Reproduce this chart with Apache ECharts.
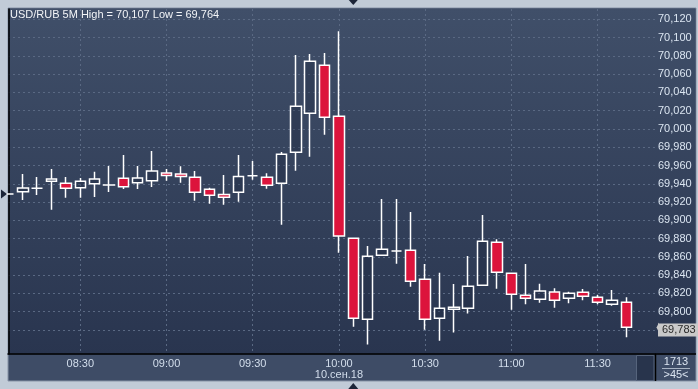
<!DOCTYPE html>
<html><head><meta charset="utf-8">
<script src="https://cdn.jsdelivr.net/npm/echarts@6/dist/echarts.min.js"></script>
<style>html,body{margin:0;padding:0;background:#c1cbd7;}#c{width:698px;height:389px;}</style>
</head><body><div id="c"></div>
<script>
const times = ['08:05','08:10','08:15','08:20','08:25','08:30','08:35','08:40','08:45','08:50','08:55',
  '09:00','09:05','09:10','09:15','09:20','09:25','09:30','09:35','09:40','09:45','09:50','09:55',
  '10:00','10:05','10:10','10:15','10:20','10:25','10:30','10:35','10:40','10:45','10:50','10:55',
  '11:00','11:05','11:10','11:15','11:20','11:25','11:30','11:35','11:40'];
const opens = [69.9288,69.9314,69.9350,69.9427,69.9405,69.9357,69.9401,69.9386,69.9460,69.9412,69.9434,
  69.9518,69.9507,69.9471,69.9339,69.9284,69.9306,69.9489,69.9471,69.9405,69.9744,70.0171,70.0696,
  70.0138,69.8803,69.7917,69.8617,69.8664,69.8672,69.8354,69.7927,69.8026,69.8037,69.8289,69.8759,
  69.8420,69.8179,69.8135,69.8216,69.8146,69.8212,69.8157,69.8081,69.8103];
const closes = [69.9288,69.9354,69.9350,69.9452,69.9350,69.9427,69.9452,69.9388,69.9368,69.9463,69.9540,
  69.9492,69.9481,69.9306,69.9274,69.9252,69.9481,69.9489,69.9383,69.9722,70.0248,70.0740,70.0127,
  69.8829,69.7927,69.8606,69.8683,69.8664,69.8332,69.7917,69.8037,69.8048,69.8278,69.8770,69.8431,
  69.8190,69.8146,69.8227,69.8125,69.8201,69.8168,69.8103,69.8125,69.7830];
const lows = [69.9280,69.9222,69.9277,69.9117,69.9248,69.9248,69.9255,69.9310,69.9343,69.9343,69.9365,
  69.9434,69.9412,69.9215,69.9182,69.9171,69.9204,69.9445,69.9346,69.8953,69.9543,69.9697,69.9937,
  69.8646,69.7836,69.7640,69.8617,69.8526,69.8274,69.7803,69.7683,69.7771,69.7979,69.8289,69.8252,
  69.8022,69.8081,69.8099,69.8044,69.8092,69.8125,69.8081,69.8066,69.7719];
const highs = [69.9296,69.9507,69.9474,69.9562,69.9474,69.9463,69.9533,69.9595,69.9715,69.9595,69.9759,
  69.9562,69.9591,69.9540,69.9357,69.9496,69.9715,69.9649,69.9514,69.9748,70.0809,70.0820,70.0831,
  70.1070,69.8803,69.8719,69.9233,69.9233,69.9091,69.8522,69.8427,69.8303,69.8610,69.9058,69.8792,
  69.8420,69.8522,69.8307,69.8256,69.8219,69.8249,69.8183,69.8238,69.8157];
const tickLabels = ['08:30','09:00','09:30','10:00','10:30','11:00','11:30'];
const yTicks = [69.78,69.80,69.82,69.84,69.86,69.88,69.90,69.92,69.94,69.96,69.98,70.00,70.02,70.04,70.06,70.08,70.10,70.12];
const yLabels = [69.80,69.82,69.84,69.86,69.88,69.90,69.92,69.94,69.96,69.98,70.00,70.02,70.04,70.06,70.08,70.10,70.12];
const titleText = 'USD/RUB 5M High = 70,107 Low = 69,764';
const dateLabel = '10.сен.18';
const dateTick = '10:00';
const statTop = '1713';
const statBottom = '>45<';
const cursorIndex = 24;

const FONT = "'Liberation Sans Narrow','Arial Narrow','Liberation Sans',Arial,sans-serif";
const fmt = v => Number(v).toFixed(3).replace('.', ',');
const data = times.map((t, i) => [i, opens[i], closes[i], lows[i], highs[i]]);
const tickIdx = tickLabels.map(t => times.indexOf(t));
const lastClose = closes[closes.length - 1];

const chart = echarts.init(document.getElementById('c'), null, {renderer: 'canvas'});
const grad = new echarts.graphic.LinearGradient(0, 0, 0, 1, [
  {offset: 0, color: '#404f69'}, {offset: 1, color: '#29354f'}]);
const chrome = [
  {type: 'rect', silent: true, z: -30, shape: {x: 8, y: 8, width: 688, height: 373},
   style: {fill: '#3e4c66', stroke: '#8793a6', lineWidth: 1}},
  {type: 'rect', silent: true, z: -29, shape: {x: 8.5, y: 8.5, width: 687, height: 346}, style: {fill: grad}},
  {type: 'line', silent: true, z: 10, shape: {x1: 655, y1: 354, x2: 696, y2: 354}, style: {stroke: '#000', lineWidth: 1.5}},
  {type: 'line', silent: true, z: 10, shape: {x1: 655.5, y1: 354, x2: 655.5, y2: 381}, style: {stroke: '#000', lineWidth: 1.5}},
  {type: 'rect', silent: true, z: 5, shape: {x: 636.5, y: 355.5, width: 17.5, height: 25},
   style: {fill: '#28344c', stroke: '#56647c', lineWidth: 1}},
  {type: 'line', silent: true, z: 10, shape: {x1: 662, y1: 368.5, x2: 690, y2: 368.5}, style: {stroke: '#a8b3c3', lineWidth: 1}},
  {type: 'text', silent: true, z: 10, style: {x: 676, y: 361.5, text: statTop, fill: '#dbe4f0', font: '11px ' + FONT, align: 'center', verticalAlign: 'middle'}},
  {type: 'text', silent: true, z: 10, style: {x: 676, y: 375, text: statBottom, fill: '#dbe4f0', font: '11px ' + FONT, align: 'center', verticalAlign: 'middle'}}
];

const option = {
  animation: false,
  backgroundColor: '#c1cbd7',
  title: {text: titleText, left: 10, top: 9, padding: 0,
    textStyle: {fontSize: 11, lineHeight: 11, color: '#f2f4f7', fontWeight: 'normal', fontFamily: FONT}},
  grid: {left: 8, top: 9, right: 43, bottom: 35, containLabel: false},
  xAxis: {type: 'value', min: -0.03, max: 45,
    axisLine: {show: true, onZero: false, lineStyle: {color: '#000', width: 1.5}},
    axisTick: {show: false, customValues: tickIdx},
    axisLabel: {customValues: tickIdx, margin: 4, color: '#d3deec', fontSize: 11, lineHeight: 11, fontFamily: FONT,
      formatter: v => { const t = times[Math.round(v)]; return t === dateTick ? t + '\n' + dateLabel : t; }},
    splitLine: {show: true, lineStyle: {color: '#5a6983', width: 1, type: [2, 3]}}},
  yAxis: {type: 'value', position: 'right', min: 69.7537, max: 70.1313, scale: true,
    axisLine: {show: true, lineStyle: {color: '#000', width: 1.5}},
    axisTick: {show: false, customValues: yTicks},
    axisLabel: {customValues: yLabels, margin: 3, color: '#dbe5f1', fontSize: 11, fontFamily: FONT, formatter: v => fmt(v)},
    splitLine: {show: true, lineStyle: {color: '#5a6983', width: 1, type: [2, 3]}}},
  series: [{
    type: 'candlestick', data: data, barWidth: 11, clip: true,
    itemStyle: {color: 'rgba(28,38,58,0.3)', color0: '#dc143c', borderColor: '#ffffff', borderColor0: '#ffffff',
      borderColorDoji: '#ffffff', borderWidth: 1.5},
    markLine: {symbol: 'none', silent: true, animation: false,
      lineStyle: {color: 'rgba(0,0,0,0)', width: 0, opacity: 1},
      label: {show: true, position: 'end', distance: 3, opacity: 1, formatter: () => fmt(lastClose),
        backgroundColor: '#c9c9c9', color: '#2a2a2a', padding: [1, 3, 1, 4], fontSize: 11, fontFamily: FONT},
      data: [{yAxis: lastClose}]}
  }],
  graphic: chrome
};
chart.setOption(option);

const leftPt = chart.convertToPixel({gridIndex: 0}, [0, closes[0]]);
const tagPt = chart.convertToPixel({gridIndex: 0}, [45, lastClose]);
const cx = chart.convertToPixel({xAxisIndex: 0}, cursorIndex);
const ly = leftPt[1];
const ty = Math.round(tagPt[1]) + 0.5;
chart.setOption({graphic: chrome.concat([
  {type: 'polygon', silent: true, z: 20, shape: {points: [[1, ly - 4.5], [7, ly], [1, ly + 4.5]]}, style: {fill: '#1c2538'}},
  {type: 'polygon', silent: true, z: 20, shape: {points: [[cx - 4.5, 0], [cx + 4.5, 0], [cx, 5]]}, style: {fill: '#1c2538'}},
  {type: 'polygon', silent: true, z: 20, shape: {points: [[cx - 5, 389], [cx + 5, 389], [cx, 383]]}, style: {fill: '#1c2538'}},
  {type: 'polygon', silent: true, z: 20, shape: {points: [[656.5, ty], [659, ty - 5], [659, ty + 5]]}, style: {fill: '#c9c9c9'}}
])});
</script></body></html>
